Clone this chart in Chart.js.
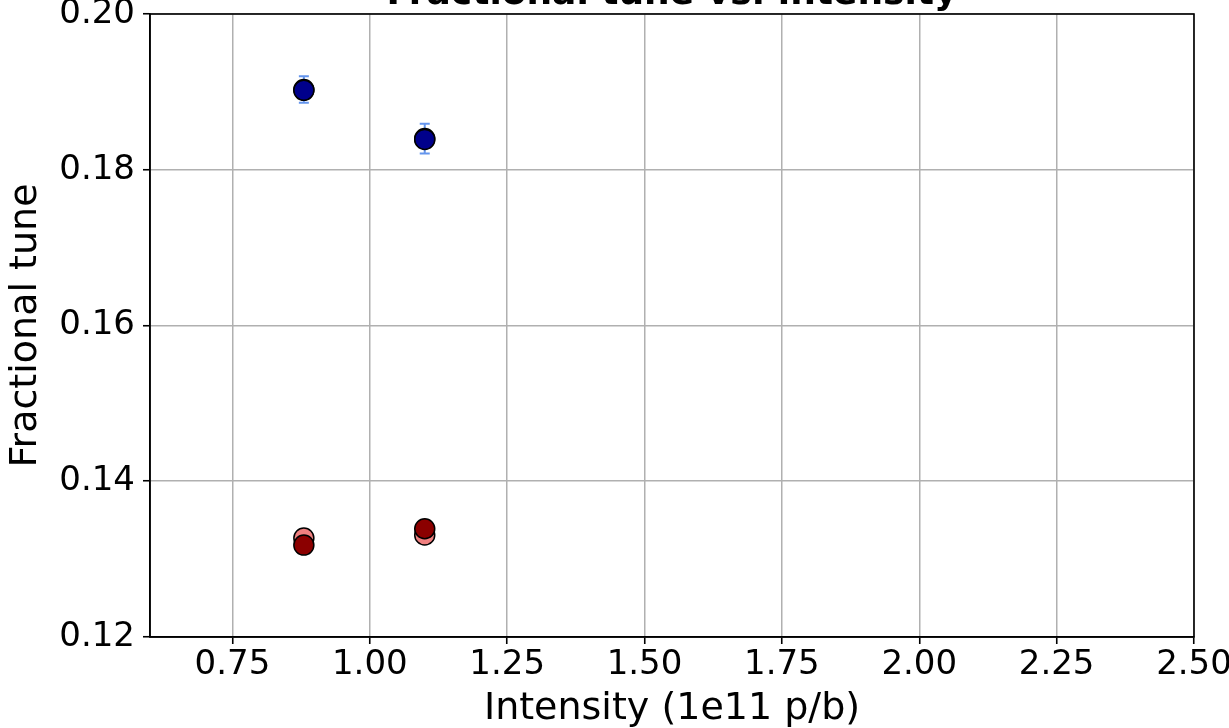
<!DOCTYPE html>
<html>
<head>
<meta charset="utf-8">
<script src="https://cdn.jsdelivr.net/npm/chart.js@4"></script>
<style>
  html, body { margin: 0; padding: 0; background: #fff; }
  #wrap { width: 1229px; height: 728px; }
</style>
</head>
<body>
<div id="wrap"><canvas id="c" width="1229" height="728"></canvas></div>
<script>
// ---- data ----
const intensity      = [0.88, 1.10];
const tuneDarkBlue   = [0.1902, 0.1839];
const tuneLightBlue  = [0.1903, 0.1840];
const errLightBlue   = [0.0017, 0.0019];
const tuneDarkRed    = [0.1318, 0.1339];
const tuneLightRed   = [0.1327, 0.1331];
const xTicks = [0.75, 1.00, 1.25, 1.50, 1.75, 2.00, 2.25, 2.50];
const yTicks = [0.12, 0.14, 0.16, 0.18, 0.20];
const titleText = 'Fractional tune vs. intensity';
const xLabel = 'Intensity (1e11 p/b)';
const yLabel = 'Fractional tune';

const FONT = 'DejaVu Sans';
const pts = (ys) => intensity.map((x, i) => ({ x: x, y: ys[i] }));

const errorBars = {
  id: 'errorBars',
  beforeDatasetsDraw(chart) {
    const { ctx, scales: { x, y } } = chart;
    ctx.save();
    ctx.strokeStyle = '#6495ED';
    ctx.lineWidth = 2;
    intensity.forEach((v, i) => {
      const px = x.getPixelForValue(v);
      const yt = y.getPixelForValue(tuneLightBlue[i] + errLightBlue[i]);
      const yb = y.getPixelForValue(tuneLightBlue[i] - errLightBlue[i]);
      ctx.beginPath();
      ctx.moveTo(px, yt); ctx.lineTo(px, yb);
      ctx.moveTo(px - 5, yt); ctx.lineTo(px + 5, yt);
      ctx.moveTo(px - 5, yb); ctx.lineTo(px + 5, yb);
      ctx.stroke();
    });
    ctx.restore();
  }
};

const frameAndTitle = {
  id: 'frameAndTitle',
  afterDraw(chart) {
    const { ctx, chartArea: a } = chart;
    ctx.save();
    ctx.strokeStyle = '#000';
    ctx.lineWidth = 1.6;
    ctx.strokeRect(a.left, a.top, a.right - a.left, a.bottom - a.top);
    ctx.fillStyle = '#000';
    ctx.font = 'bold 36px "' + FONT + '"';
    ctx.textAlign = 'center';
    ctx.textBaseline = 'alphabetic';
    ctx.fillText(titleText, (a.left + a.right) / 2, 4);
    ctx.restore();
  }
};

const gridOpts = {
  color: '#b0b0b0',
  lineWidth: 1.5,
  tickLength: 7,
  tickColor: '#000',
  tickWidth: 1.6
};

new Chart(document.getElementById('c'), {
  type: 'scatter',
  data: {
    datasets: [
      { label: 'dark blue', data: pts(tuneDarkBlue), backgroundColor: '#00008B', borderColor: '#000', borderWidth: 1.5, pointRadius: 10, pointHoverRadius: 10 },
      { label: 'dark red', data: pts(tuneDarkRed), backgroundColor: '#8B0000', borderColor: '#000', borderWidth: 1.5, pointRadius: 10, pointHoverRadius: 10 },
      { label: 'light blue', data: pts(tuneLightBlue), backgroundColor: '#6495ED', borderColor: '#000', borderWidth: 1.5, pointRadius: 10, pointHoverRadius: 10 },
      { label: 'light red', data: pts(tuneLightRed), backgroundColor: '#F08080', borderColor: '#000', borderWidth: 1.5, pointRadius: 10, pointHoverRadius: 10 }
    ]
  },
  options: {
    responsive: false,
    animation: false,
    events: [],
    layout: { padding: { top: 14, right: 35, left: 0, bottom: 0 } },
    plugins: { legend: { display: false }, tooltip: { enabled: false }, title: { display: false } },
    scales: {
      x: {
        type: 'linear', min: 0.6, max: 2.5,
        afterBuildTicks: (ax) => { ax.ticks = xTicks.map(v => ({ value: v })); },
        afterFit: (ax) => { ax.height = 91; ax.paddingLeft = 0; ax.paddingRight = 0; },
        ticks: { color: '#000', font: { family: FONT, size: 34, lineHeight: 1.2 }, padding: 1, maxRotation: 0, autoSkip: false,
                 callback: (v) => Number(v).toFixed(2) },
        grid: gridOpts,
        border: { display: true, color: '#000', width: 1.6 },
        title: { display: true, text: xLabel, color: '#000', font: { family: FONT, size: 38, lineHeight: 1 }, padding: { top: 0, bottom: 0 } }
      },
      y: {
        type: 'linear', min: 0.12, max: 0.20,
        afterBuildTicks: (ax) => { ax.ticks = yTicks.map(v => ({ value: v })); },
        afterFit: (ax) => { ax.width = 150; ax.paddingTop = 0; ax.paddingBottom = 0; },
        ticks: { color: '#000', font: { family: FONT, size: 34, lineHeight: 1.2 }, padding: 8, autoSkip: false,
                 callback: (v) => Number(v).toFixed(2) },
        grid: gridOpts,
        border: { display: true, color: '#000', width: 1.6 },
        title: { display: true, text: yLabel, color: '#000', font: { family: FONT, size: 38, lineHeight: 1 }, padding: { top: 7, bottom: 0 } }
      }
    }
  },
  plugins: [errorBars, frameAndTitle]
});
</script>
</body>
</html>
